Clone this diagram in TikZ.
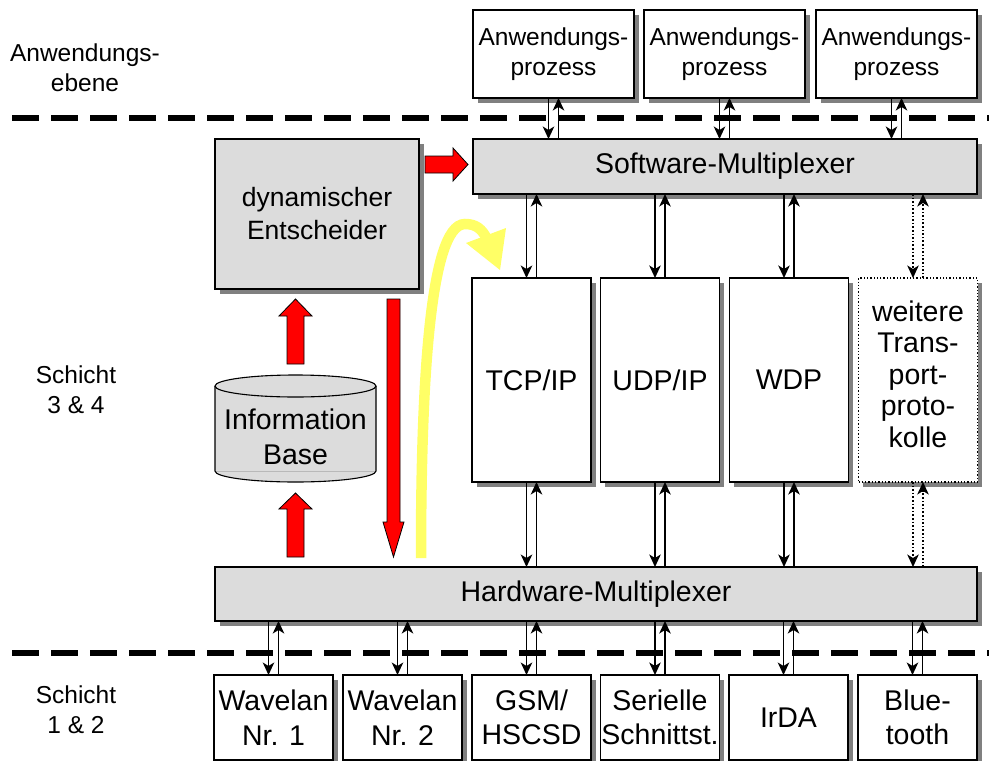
\documentclass[tikz,border=0pt]{standalone}
\usepackage{fontspec}
\setmainfont{Liberation Sans}
\usetikzlibrary{arrows.meta,shadows}
\definecolor{boxgray}{HTML}{DCDCDC}
\definecolor{shadowgray}{HTML}{808080}
\definecolor{hilite}{HTML}{FFFF66}
\definecolor{flowred}{HTML}{FF0000}

\begin{document}
\begin{tikzpicture}[x=1pt,y=-1pt,
  every node/.style={inner sep=0pt, outer sep=0pt, align=center},
  fsmall/.style={font=\fontsize{24.5}{30}\selectfont},
  fmid/.style={font=\fontsize{26.5}{33}\selectfont},
  fbig/.style={font=\fontsize{28.5}{34.5}\selectfont},
  ftall/.style={font=\fontsize{28.5}{31.5}\selectfont},
  shadowed/.style={drop shadow={shadow xshift=4.5pt, shadow yshift=-4.5pt, fill=shadowgray, opacity=1}},
  box/.style={draw, line width=1.6pt, fill=white, shadowed},
  graybox/.style={draw, line width=1.6pt, fill=boxgray, shadowed},
  dotbox/.style={draw, dotted, line width=1.3pt, fill=white, shadowed},
  conn/.style={line width=1.6pt, -{Stealth[length=12.5pt, width=11.5pt, inset=3.5pt]}},
  dotconn/.style={conn, dotted, line width=1.2pt},
  sep/.style={line width=5.5pt, dash pattern=on 27pt off 12pt},
  blockarrow/.style={fill=flowred, draw=black, line width=0.8pt, line join=miter},
]
\useasboundingbox (0,0) rectangle (989,761);

% layer labels
\node[fsmall] (lblapp) at (85,68) {Anwendungs-\\ebene};
\node[fsmall] (lbl34) at (76,389.5) {Schicht\\3 \& 4};
\node[fsmall] (lbl12) at (76,709.5) {Schicht\\1 \& 2};

% layer separators
\coordinate (sepAl) at (12,118);  \coordinate (sepAr) at (989,118);
\coordinate (sepBl) at (12,653);  \coordinate (sepBr) at (989,653);
\draw[sep] (sepAl) -- (sepAr);
\draw[sep] (sepBl) -- (sepBr);

% application processes
\foreach \n/\x in {app1/553.5, app2/724.5, app3/896.5}
  \node[box, fsmall, minimum width=161pt, minimum height=88pt] (\n) at (\x,54) {Anwendungs-\\prozess};

% software multiplexer and decision unit
\node[graybox, fbig, minimum width=504pt, minimum height=55pt] (swmux) at (725,166.5) {Software-Multiplexer};
\node[graybox, fmid, minimum width=204pt, minimum height=150pt] (dec) at (317,214) {dynamischer\\Entscheider};

% transport protocols
\node[box, fbig, minimum width=119pt, minimum height=204pt] (tcp) at (531.5,380) {TCP/IP};
\node[box, fbig, minimum width=119pt, minimum height=204pt] (udp) at (660,380) {UDP/IP};
\node[box, fbig, minimum width=119pt, minimum height=204pt] (wdp) at (789,380) {WDP};
\node[dotbox, minimum width=119pt, minimum height=204pt] (more) at (918,380) {};
\node[ftall] (moretxt) at (918,374) {weitere\\Trans-\\port-\\proto-\\kolle};

% hardware multiplexer
\node[graybox, fbig, minimum width=762pt, minimum height=54pt] (hwmux) at (596,594) {Hardware-Multiplexer};

% network interfaces
\foreach \n/\x/\t in {wl1/273.5/{Wavelan\\Nr. 1}, wl2/402.5/{Wavelan\\Nr. 2}, gsm/531.5/{GSM/\\HSCSD},
                      ser/660/{Serielle\\Schnittst.}, irda/788.5/{IrDA}, bt/917.5/{Blue-\\tooth}}
  \node[box, fbig, minimum width=119pt, minimum height=85pt] (\n) at (\x,717.5) {\t};

% information base (cylinder)
\fill[boxgray] (215,386) -- (215,471) arc (180:360:80.5pt and 11pt) -- (376,386) arc (0:180:80.5pt and 11pt) -- cycle;
\draw[gray!55, line width=0.8pt] (215,471) -- (376,471);
\draw[line width=1.1pt] (215,386) -- (215,471) arc (180:360:80.5pt and 11pt) -- (376,386);
\draw[line width=1.1pt] (295.5,386) ellipse [x radius=80.5pt, y radius=11pt];
\node[fbig] (ibase) at (295.5,437) {Information\\Base};

% paired connectors
\foreach \b in {app1,app2,app3} {
  \draw[conn] ([xshift=-5pt]\b.south) -- ([xshift=-5pt]\b.south |- swmux.north);
  \draw[conn] ([xshift=5pt]\b.south |- swmux.north) -- ([xshift=5pt]\b.south);
}
\foreach \b in {tcp,udp,wdp} {
  \draw[conn] ([xshift=-5pt]\b.north |- swmux.south) -- ([xshift=-5pt]\b.north);
  \draw[conn] ([xshift=5pt]\b.north) -- ([xshift=5pt]\b.north |- swmux.south);
  \draw[conn] ([xshift=-5pt]\b.south) -- ([xshift=-5pt]\b.south |- hwmux.north);
  \draw[conn] ([xshift=5pt]\b.south |- hwmux.north) -- ([xshift=5pt]\b.south);
}
\draw[dotconn] ([xshift=-5pt]more.north |- swmux.south) -- ([xshift=-5pt]more.north);
\draw[dotconn] ([xshift=5pt]more.north) -- ([xshift=5pt]more.north |- swmux.south);
\draw[dotconn] ([xshift=-5pt]more.south) -- ([xshift=-5pt]more.south |- hwmux.north);
\draw[dotconn] ([xshift=5pt]more.south |- hwmux.north) -- ([xshift=5pt]more.south);
\foreach \b in {wl1,wl2,gsm,ser,irda,bt} {
  \draw[conn] ([xshift=-5pt]\b.north |- hwmux.south) -- ([xshift=-5pt]\b.north);
  \draw[conn] ([xshift=5pt]\b.north) -- ([xshift=5pt]\b.north |- hwmux.south);
}

% decision flow (red block arrows)
\draw[blockarrow] (425,156) -- (453,156) -- (453,148) -- (468,164.5) -- (453,181) -- (453,173) -- (425,173) -- cycle;
\draw[blockarrow] (287,364) -- (287,316) -- (279,316) -- (295.5,299) -- (312,316) -- (304,316) -- (304,364) -- cycle;
\draw[blockarrow] (287,557) -- (287,509) -- (279,509) -- (295.5,493) -- (312,509) -- (304,509) -- (304,557) -- cycle;
\draw[blockarrow] (387,299) -- (400,299) -- (400,522) -- (404,522) -- (393.5,557) -- (383,522) -- (387,522) -- cycle;

% selection path (yellow)
\draw[hilite, line width=10.5pt] (421,558) .. controls (421,400) and (428,224) .. (465,224)
  .. controls (476,224) and (482,229) .. (487,239);
\fill[hilite] (466,243) -- (500,270) -- (506,228) -- cycle;
\end{tikzpicture}
\end{document}
